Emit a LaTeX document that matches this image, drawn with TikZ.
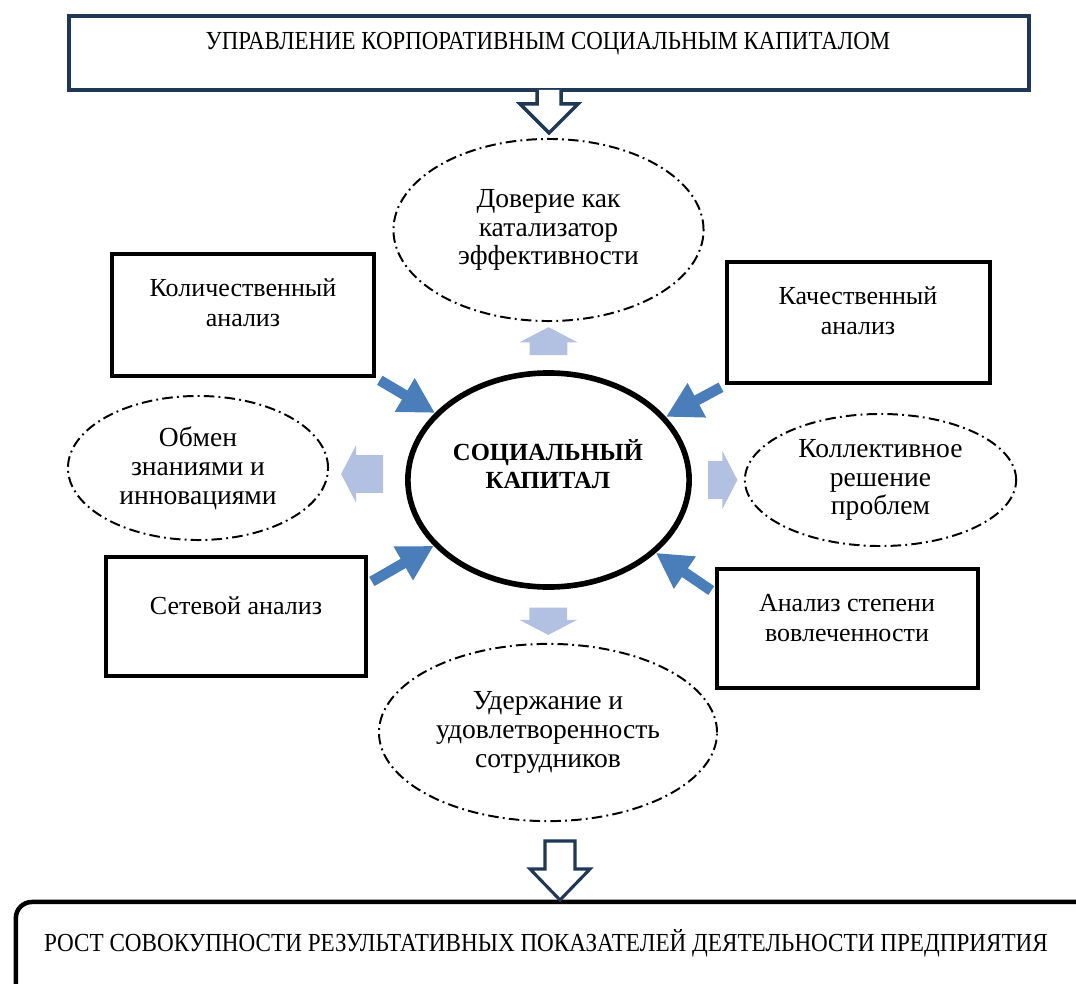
\documentclass[tikz,border=0pt]{standalone}
\usepackage{fontspec}
\setmainfont{Liberation Serif}
\usepackage{graphicx}
\usetikzlibrary{arrows.meta, shapes.geometric, shapes.arrows, calc}

\definecolor{navy}{RGB}{31,56,85}
\definecolor{feedblue}{RGB}{74,126,187}
\definecolor{paleblue}{RGB}{178,192,225}

\begin{document}
\begin{tikzpicture}[x=0.025cm, y=-0.025cm,
    anabox/.style={draw, line width=3pt, minimum width=6.55cm, minimum height=3.05cm},
    effect/.style={draw, ellipse, line width=1.4pt, dash pattern=on 7.5pt off 3pt on 1.3pt off 3pt, inner sep=0pt, align=center, font=\fontsize{19.6}{20.5}\selectfont},
    boxtext/.style={align=center, font=\fontsize{18.5}{21.5}\selectfont},
    feed/.style={feedblue, line width=7.5pt, -{Triangle[length=25pt, width=26pt]}, shorten <=3pt},
    spread/.style={single arrow, fill=paleblue, inner xsep=0pt, inner ysep=0.46cm, minimum width=1.45cm, single arrow tip angle=125},
    hollow/.style={draw=navy, fill=white, line width=2.5pt, line join=miter}]

\clip (0,0) rectangle (1076,984);

% top: management
\node[draw=navy, line width=2.8pt, minimum width=24cm, minimum height=1.85cm] (mgmt) at (549,53) {};
\node[font=\fontsize{18.5}{20}\selectfont] (mgmttext) at (548,44) {\scalebox{0.88}[1]{УПРАВЛЕНИЕ КОРПОРАТИВНЫМ СОЦИАЛЬНЫМ КАПИТАЛОМ}};
\filldraw[hollow] ($(mgmt.south)+(-12,-2)$) -- ++(0,14) -- ++(-17,0) -- ($(mgmt.south)+(0,41)$) -- ($(mgmt.south)+(29,12)$) -- ++(-17,0) -- ++(0,-14);

% effects
\node[effect, minimum width=7.75cm, minimum height=4.55cm] (trust) at (548.5,230) {Доверие как\\катализатор\\эффективности};
\node[effect, minimum width=6.5cm, minimum height=3.6cm] (share) at (198,468) {Обмен\\знаниями и\\инновациями};
\node[effect, minimum width=6.78cm, minimum height=3.3cm] (solve) at (880.5,480) {Коллективное\\решение\\проблем};
\node[effect, minimum width=8.45cm, minimum height=4.43cm] (keep) at (548,732.5) {Удержание и\\удовлетворенность\\сотрудников};

% core
\node[draw, ellipse, line width=4pt, minimum width=7.03cm, minimum height=5.35cm] (core) at (548.5,480) {};
\node[font=\bfseries\fontsize{17.5}{20}\selectfont, align=center] (coretext) at (548,464) {СОЦИАЛЬНЫЙ\\КАПИТАЛ};

% analysis boxes
\node[anabox] (qty) at (243,315) {};
\node[boxtext] (qtytext) at (243,303) {Количественный\\анализ};
\node[anabox, minimum width=6.58cm, minimum height=3.03cm] (qual) at (858.5,322.5) {};
\node[boxtext] (qualtext) at (858,311) {Качественный\\анализ};
\node[anabox, minimum width=6.5cm, minimum height=2.98cm] (net) at (236,616.5) {};
\node[boxtext] (nettext) at (236,606) {Сетевой анализ};
\node[anabox, minimum width=6.53cm, minimum height=2.98cm] (eng) at (847.5,628.5) {};
\node[boxtext] (engtext) at (847,618) {Анализ степени\\вовлеченности};

\draw[feed] (qty.south east) -- (core);
\draw[feed] (qual.south west) -- (core);
\draw[feed] (net.14) -- (core);
\draw[feed] (eng.165) -- (core);

\node[spread, minimum height=0.7cm, rotate=90] (toup) at ($(core.north)!0.5!(trust.south)$) {};
\node[spread, minimum height=1.05cm, rotate=180] (toleft) at ($(share.east)!0.5!(core.west)$) {};
\node[spread, minimum height=0.73cm] (toright) at ($(core.east)!0.5!(solve.west)$) {};
\node[spread, minimum height=0.68cm, rotate=-90] (todown) at ($(core.south)!0.5!(keep.north)$) {};

% bottom: result
\node[draw, line width=3.2pt, rounded corners=0.4cm, minimum width=27.6cm, minimum height=2.95cm] (result) at (568,961) {};
\node[font=\fontsize{18.5}{20}\selectfont] (resulttext) at (546,943.5) {\scalebox{0.89}[1]{РОСТ СОВОКУПНОСТИ РЕЗУЛЬТАТИВНЫХ ПОКАЗАТЕЛЕЙ ДЕЯТЕЛЬНОСТИ ПРЕДПРИЯТИЯ}};
\coordinate (drop) at (560,900);
\filldraw[hollow, line width=2.2pt] ($(drop)+(-15,-59)$) -- ++(0,28) -- ++(-15,0) -- (drop) -- ($(drop)+(30,-31)$) -- ++(-15,0) -- ++(0,-28) -- cycle;
\end{tikzpicture}
\end{document}
